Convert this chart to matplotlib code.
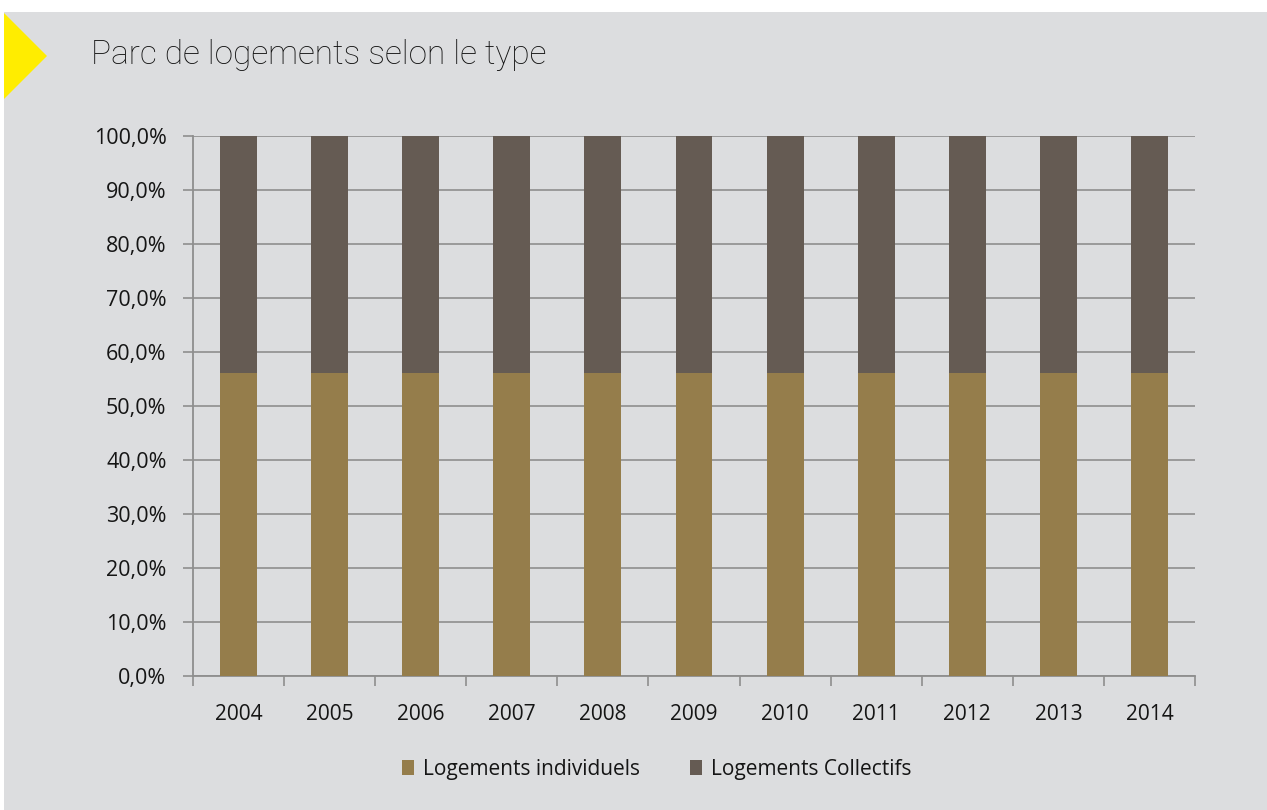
import matplotlib
matplotlib.use("Agg")
import matplotlib.pyplot as plt
from matplotlib.patches import Polygon, Rectangle
import numpy as np

years = ["2004", "2005", "2006", "2007", "2008", "2009", "2010", "2011", "2012", "2013", "2014"]
individuels = [56.1, 56.1, 56.1, 56.1, 56.1, 56.1, 56.1, 56.1, 56.1, 56.1, 56.1]
collectifs = [43.9, 43.9, 43.9, 43.9, 43.9, 43.9, 43.9, 43.9, 43.9, 43.9, 43.9]
yticks = [0, 10, 20, 30, 40, 50, 60, 70, 80, 90, 100]
ytick_labels = ["0,0%", "10,0%", "20,0%", "30,0%", "40,0%", "50,0%", "60,0%", "70,0%", "80,0%", "90,0%", "100,0%"]
title = "Parc de logements selon le type"
labels = ["Logements individuels", "Logements Collectifs"]

W, H = 1267, 810
BG = "#DCDDDF"
C_IND = "#957D4B"
C_COL = "#655B53"
GRID = "#8E8E8E"

fig = plt.figure(figsize=(W / 100, H / 100), dpi=100)
fig.patch.set_facecolor("white")
# gray panel
fig.patches.append(Rectangle((4 / W, 0), 1, 1 - 12 / H, transform=fig.transFigure,
                             facecolor=BG, edgecolor="none", zorder=-10))
# yellow triangle
fig.patches.append(Polygon([(4 / W, 1 - 13 / H), (47 / W, 1 - 56 / H), (4 / W, 1 - 99 / H)],
                           closed=True, transform=fig.transFigure,
                           facecolor="#FFED00", edgecolor="none", zorder=-5))

fig.text(91 / W, 1 - 55 / H, title, fontsize=24, family="Roboto", fontweight="light",
         color="#111111", va="center", ha="left")

left, right, top, bottom = 193, 1195, 136, 676
ax = fig.add_axes([left / W, 1 - bottom / H, (right - left) / W, (bottom - top) / H])
ax.set_facecolor(BG)

x = np.arange(len(years))
w = 0.405
ax.bar(x, individuels, width=w, color=C_IND, zorder=3, label=labels[0])
ax.bar(x, collectifs, width=w, bottom=individuels, color=C_COL, zorder=3, label=labels[1])

ax.set_xlim(-0.5, len(years) - 0.5)
ax.set_ylim(0, 100)
ax.set_yticks(yticks)
ax.set_yticklabels(ytick_labels)
ax.set_xticks(x)
ax.set_xticklabels(years)
ax.set_xticks(np.arange(-0.5, len(years)), minor=True)

ax.yaxis.grid(True, color=GRID, linewidth=1.2, zorder=0)
ax.set_axisbelow(True)
for s in ["top", "right"]:
    ax.spines[s].set_visible(False)
for s in ["left", "bottom"]:
    ax.spines[s].set_color(GRID)
    ax.spines[s].set_linewidth(1.3)

ax.tick_params(axis="y", length=7, width=1.2, color=GRID, pad=12, labelsize=15.5, labelcolor="#151515")
ax.tick_params(axis="x", which="major", length=0, pad=20, labelsize=15, labelcolor="#151515")
ax.tick_params(axis="x", which="minor", length=7, width=1.2, color=GRID)
for lbl in ax.get_xticklabels() + ax.get_yticklabels():
    lbl.set_family("Open Sans")

leg = fig.legend(loc="center", bbox_to_anchor=(657 / W, 1 - 769 / H), ncol=2, frameon=False,
                 prop={"family": "Open Sans", "size": 15}, handlelength=0.55, handleheight=0.75,
                 handletextpad=0.45, columnspacing=2.4)
for t in leg.get_texts():
    t.set_color("#151515")

fig.savefig("out.png", dpi=100, facecolor=fig.get_facecolor())
